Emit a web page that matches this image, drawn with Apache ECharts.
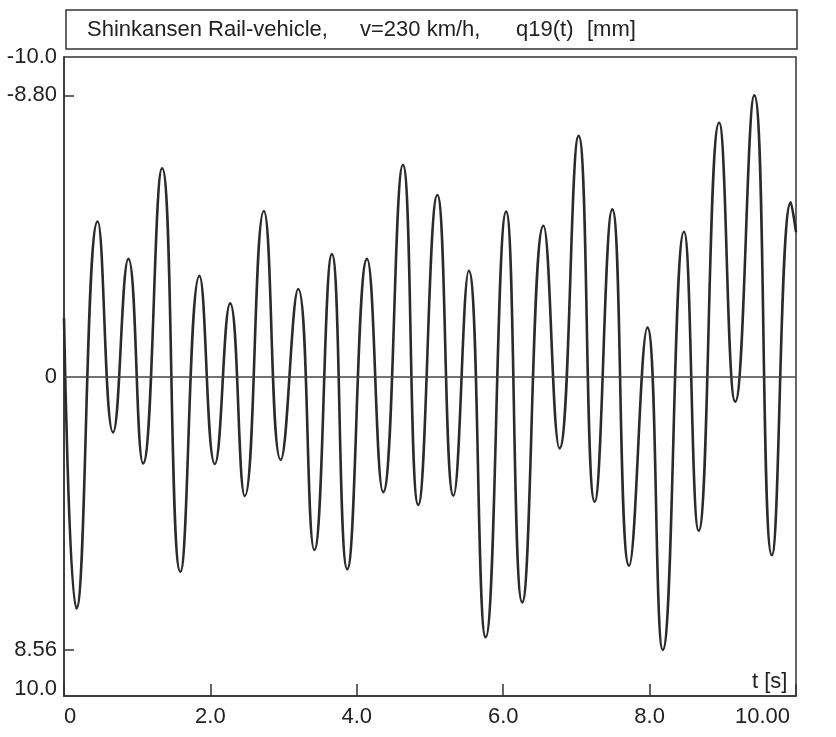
<!DOCTYPE html>
<html>
<head>
<meta charset="utf-8">
<script src="https://cdn.jsdelivr.net/npm/echarts@6/dist/echarts.min.js"></script>
<style>
  html, body { margin: 0; padding: 0; background: #fff; }
  #chart { width: 836px; height: 737px; }
</style>
</head>
<body>
<div id="chart"></div>
<script>
// time [s] of the read-off turning points
const tValues = [0, 0.17, 0.46, 0.67, 0.88, 1.08, 1.34, 1.59, 1.85, 2.06, 2.27, 2.47, 2.73, 2.96, 3.20, 3.42,
  3.66, 3.87, 4.14, 4.36, 4.63, 4.84, 5.10, 5.32, 5.53, 5.76, 6.04, 6.26, 6.55, 6.77, 7.03, 7.25,
  7.49, 7.72, 7.97, 8.18, 8.47, 8.67, 8.95, 9.17, 9.43, 9.67, 9.93, 10.0]
// q19(t) [mm]
const q19Values = [-1.83, 7.26, -4.85, 1.75, -3.68, 2.72, -6.52, 6.11, -3.15, 2.74, -2.29, 3.74, -5.18, 2.61, -2.74, 5.43,
  -3.83, 6.03, -3.68, 3.62, -6.62, 4.02, -5.68, 3.73, -3.31, 8.16, -5.16, 7.07, -4.72, 2.25, -7.53, 3.92,
  -5.23, 5.92, -1.53, 8.56, -4.53, 4.83, -7.94, 0.79, -8.80, 5.59, -5.45, -4.52]

const yLabelValues = [-10, -8.8, 0, 8.56, 10]
const yLabelTexts = ['-10.0', '-8.80', '0', '8.56', '10.0']
const yTickValues = [-8.8, 8.56]
const xLabelTexts = { 0: '0', 2: '2.0', 4: '4.0', 6: '6.0', 8: '8.0', 10: '10.00' }

const titleParts = ['Shinkansen Rail-vehicle,', 'v=230 km/h,', 'q19(t)', '[mm]']
const titleX = [87, 360, 516, 587]

const FONT = 'Liberation Sans, Arial, sans-serif'
const INK = '#2b2b2b'

const chart = echarts.init(document.getElementById('chart'), null, { renderer: 'canvas' })

chart.setOption({
  animation: false,
  backgroundColor: '#ffffff',
  grid: {
    left: 64,
    right: 40,
    top: 57,
    bottom: 41,
    show: true,
    borderColor: '#333',
    borderWidth: 1.5
  },
  xAxis: {
    type: 'value',
    min: 0,
    max: 10,
    interval: 2,
    axisLine: { show: true, onZero: false, lineStyle: { color: '#333', width: 1.5 } },
    axisTick: { show: true, inside: true, length: 12, lineStyle: { color: '#333', width: 1.5 } },
    splitLine: { show: false },
    axisLabel: {
      margin: 10,
      color: '#222',
      fontFamily: FONT,
      fontSize: 22,
      alignMinLabel: 'left',
      alignMaxLabel: 'right',
      formatter: (v) => {
        const s = xLabelTexts[v]
        return v === 10 ? '{e|' + s + '}' : s
      },
      rich: {
        e: { fontFamily: FONT, fontSize: 22, color: '#222', padding: [0, 6, 0, 0] }
      }
    }
  },
  yAxis: {
    type: 'value',
    inverse: true,
    min: -10,
    max: 10,
    axisLine: { show: true, onZero: false, lineStyle: { color: '#333', width: 1.5 } },
    axisTick: {
      show: true,
      inside: true,
      length: 10,
      customValues: yTickValues,
      lineStyle: { color: '#333', width: 1.5 }
    },
    splitLine: { show: false },
    axisLabel: {
      margin: 7,
      color: '#222',
      fontFamily: FONT,
      fontSize: 22,
      customValues: yLabelValues,
      formatter: (v) => {
        const i = yLabelValues.findIndex(y => Math.abs(y - v) < 1e-6)
        const s = i >= 0 ? yLabelTexts[i] : ''
        // bottom label sits a bit above the axis corner
        return v === 10 ? '{b|' + s + '}' : s
      },
      rich: {
        b: { fontFamily: FONT, fontSize: 22, color: '#222', padding: [0, 0, 14, 0] }
      }
    }
  },
  series: [
    {
      name: 'q19',
      type: 'line',
      data: tValues.map((t, i) => [t, q19Values[i]]),
      smooth: 0.5,
      showSymbol: false,
      lineStyle: { color: INK, width: 2.6 },
      markLine: {
        silent: true,
        symbol: 'none',
        label: { show: false },
        lineStyle: { color: '#444', width: 1.5, type: 'solid' },
        data: [{ yAxis: 0 }]
      }
    }
  ],
  graphic: [
    {
      type: 'rect',
      shape: { x: 66, y: 10, width: 731, height: 39 },
      style: { fill: '#fff', stroke: '#333', lineWidth: 1.5 }
    },
    ...titleParts.map((s, i) => ({
      type: 'text',
      x: titleX[i],
      y: 30,
      style: { text: s, font: '22px ' + FONT, fill: '#222', textVerticalAlign: 'middle' }
    })),
    {
      type: 'text',
      x: 752,
      y: 682,
      style: { text: 't [s]', font: '22px ' + FONT, fill: '#222', textVerticalAlign: 'middle' }
    }
  ]
})
</script>
</body>
</html>
